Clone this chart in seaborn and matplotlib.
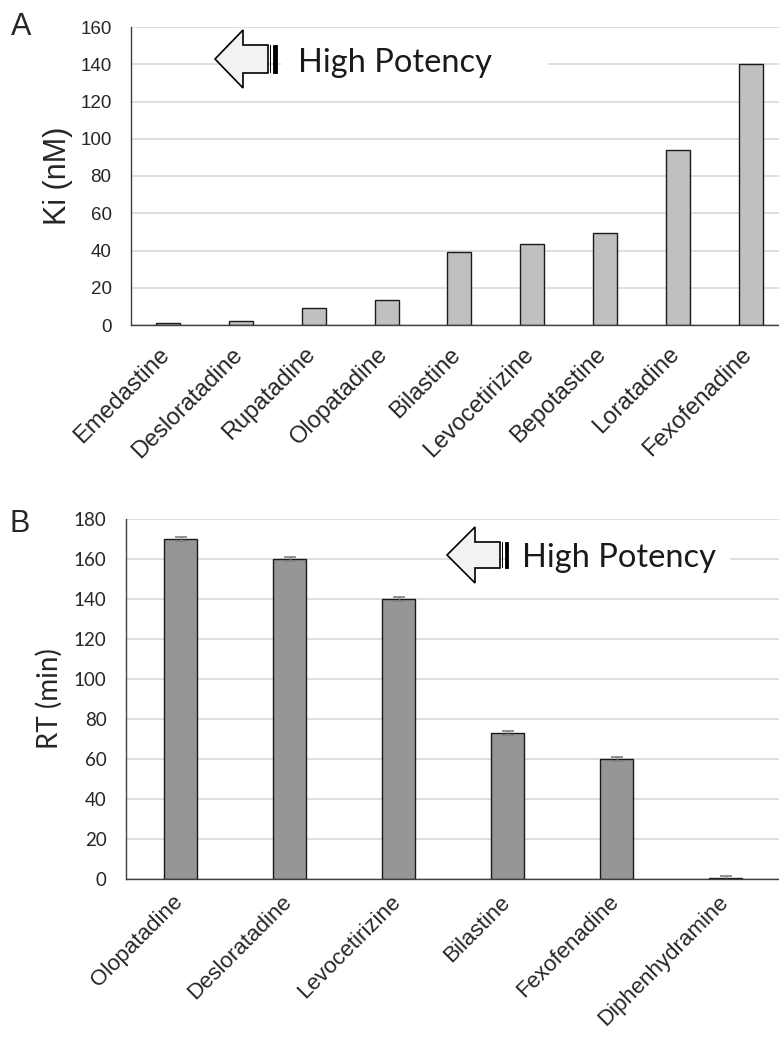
import matplotlib
matplotlib.use("Agg")
import matplotlib.pyplot as plt
import matplotlib.patches as mpatches
import matplotlib.transforms as mtrans
import numpy as np
import pandas as pd
import seaborn as sns

# ---- data ----
drugs_a = ["Emedastine", "Desloratadine", "Rupatadine", "Olopatadine", "Bilastine",
           "Levocetirizine", "Bepotastine", "Loratadine", "Fexofenadine"]
ki_nm = [0.9, 2.0, 9.3, 13.4, 39.2, 43.5, 49.4, 94.0, 140.0]
yticks_a = [0, 20, 40, 60, 80, 100, 120, 140, 160]

drugs_b = ["Olopatadine", "Desloratadine", "Levocetirizine", "Bilastine",
           "Fexofenadine", "Diphenhydramine"]
rt_min = [170.0, 160.0, 140.0, 73.0, 60.0, 0.5]
rt_err = [0.8, 0.8, 0.8, 0.8, 0.8, 0.9]
yticks_b = [0, 20, 40, 60, 80, 100, 120, 140, 160, 180]

W, H = 779, 1037
sns.set_theme(style="white")
plt.rcParams["font.family"] = ["Liberation Sans", "DejaVu Sans"]

fig = plt.figure(figsize=(W / 100, H / 100), dpi=100)


def fx(x):
    return x / W


def fy(y):
    return 1 - y / H


def style_axis(ax, yticks):
    ax.set_yticks(yticks)
    ax.set_ylim(yticks[0], yticks[-1])
    ax.yaxis.grid(True, color="#d9d9d9", lw=1.2)
    ax.xaxis.grid(False)
    ax.set_axisbelow(True)
    for s in ["top", "right"]:
        ax.spines[s].set_visible(False)
    for s in ["left", "bottom"]:
        ax.spines[s].set_color("#404040")
        ax.spines[s].set_linewidth(1.0)
    ax.tick_params(axis="both", length=0)
    ax.set_xlabel("")


def rotate_labels(ax, dx_px, dy_px, fs, pad):
    ax.tick_params(axis="x", pad=pad)
    off = mtrans.ScaledTranslation(dx_px / 100, -dy_px / 100, fig.dpi_scale_trans)
    for lab in ax.get_xticklabels():
        lab.set_rotation(45)
        lab.set_ha("right")
        lab.set_va("top")
        lab.set_rotation_mode("anchor")
        lab.set_fontsize(fs)
        lab.set_transform(lab.get_transform() + off)


# ---- Panel A ----
axA = fig.add_axes([fx(131), fy(325), fx(779) - fx(131), fy(27) - fy(325)])
dfa = pd.DataFrame({"drug": drugs_a, "ki": ki_nm})
sns.barplot(data=dfa, x="drug", y="ki", color="#c0c0c0", saturation=1,
            edgecolor="#1a1a1a", linewidth=1.0, width=0.33, ax=axA)
style_axis(axA, yticks_a)
axA.set_xlim(-0.51, 8.39)
axA.set_ylabel("Ki (nM)", fontsize=22, labelpad=5)
axA.tick_params(axis="y", labelsize=13.5, pad=14)
rotate_labels(axA, -10, 3, 17, 11)

# ---- Panel B ----
axB = fig.add_axes([fx(126), fy(879), fx(779) - fx(126), fy(519) - fy(879)])
dfb = pd.DataFrame({"drug": drugs_b, "rt": rt_min})
sns.barplot(data=dfb, x="drug", y="rt", color="#969696", saturation=1,
            edgecolor="#1a1a1a", linewidth=1.0, width=0.31, ax=axB)
axB.errorbar(np.arange(len(drugs_b)), rt_min, yerr=rt_err, fmt="none",
             ecolor="#7f7f7f", elinewidth=1, capsize=4, capthick=1.2, zorder=1)
style_axis(axB, yticks_b)
axB.set_xlim(-0.5, 5.49)
axB.set_ylabel("RT (min)", fontsize=20, labelpad=8, family=["Lato", "DejaVu Sans"])
axB.tick_params(axis="y", labelsize=13.5, pad=14)
for t in axB.get_yticklabels():
    t.set_family(["Lato", "DejaVu Sans"])
rotate_labels(axB, -8, 0, 16, 9)

# ---- panel letters ----
fig.text(fx(11), fy(35), "A", fontsize=22, ha="left", va="baseline")
fig.text(fx(10), fy(532), "B", fontsize=22, ha="left", va="baseline")


# ---- "High Potency" arrows ----
def potency_arrow(tip_x, cy, head_x, head_h, shaft_h, shaft_x, tail_x,
                  box_x0, box_x1, text_x, base_y, fs):
    # white box hiding gridline behind text
    fig.add_artist(mpatches.Rectangle((fx(box_x0), fy(cy + 22)),
                                      fx(box_x1) - fx(box_x0), fy(cy - 22) - fy(cy + 22),
                                      transform=fig.transFigure, facecolor="white",
                                      edgecolor="none", zorder=5))
    pts = [(tip_x, cy), (head_x, cy - head_h), (head_x, cy - shaft_h),
           (shaft_x, cy - shaft_h), (shaft_x, cy + shaft_h), (head_x, cy + shaft_h),
           (head_x, cy + head_h)]
    fig.add_artist(mpatches.Polygon([(fx(x), fy(y)) for x, y in pts], closed=True,
                                    transform=fig.transFigure, facecolor="#f2f2f2",
                                    edgecolor="black", lw=1.2, zorder=6))
    # tail stripes: thin line then thick bar
    fig.add_artist(mpatches.Rectangle((fx(shaft_x + 1.5), fy(cy + shaft_h)),
                                      fx(1.2), fy(cy - shaft_h) - fy(cy + shaft_h),
                                      transform=fig.transFigure, facecolor="black",
                                      edgecolor="none", zorder=6))
    fig.add_artist(mpatches.Rectangle((fx(shaft_x + 4.5), fy(cy + shaft_h)),
                                      fx(tail_x) - fx(shaft_x + 4.5),
                                      fy(cy - shaft_h) - fy(cy + shaft_h),
                                      transform=fig.transFigure, facecolor="black",
                                      edgecolor="black", lw=0.6, zorder=6))
    fig.text(fx(text_x), fy(base_y), "High Potency", fontsize=fs,
             family=["Lato", "DejaVu Sans"], color="#1a1a1a",
             ha="left", va="baseline", zorder=7)


potency_arrow(215, 59, 243, 29, 14, 268, 277, 281, 548, 298, 72, 23.5)
potency_arrow(447, 555, 475, 28, 13, 500, 508, 506, 730, 522, 567, 23.5)

fig.savefig("out.png", dpi=100)
